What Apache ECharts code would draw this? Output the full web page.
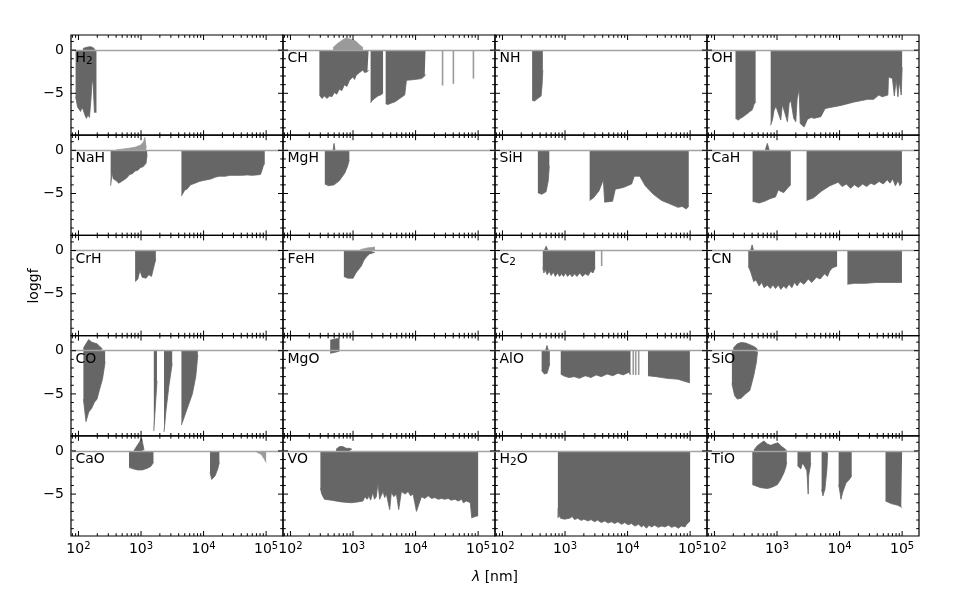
<!DOCTYPE html>
<html>
<head>
<meta charset="utf-8">
<script src="https://cdn.jsdelivr.net/npm/echarts@6.0.0/dist/echarts.min.js"></script>
<style>
html,body{margin:0;padding:0;background:#fff;}
#chart{width:960px;height:598px;}
</style>
</head>
<body>
<div id="chart"></div>
<script>
// ================= DATA =================
const panelNames = ['H2','CH','NH','OH','NaH','MgH','SiH','CaH','CrH','FeH','C2','CN','CO','MgO','AlO','SiO','CaO','VO','H2O','TiO'];
const xTickValues = [100, 1000, 10000, 100000];
const xTickExps = ['2', '3', '4', '5'];
const yTickValues = [0, -5];
const yTickLabels = ['0', '\u22125'];
const xAxisTitle = '\u03bb';
const xAxisUnit = ' [nm]';
const yAxisTitle = 'loggf';

// each band: [wavelength nm, loggf] envelope of the line list
const H2_low = [[[90,-5.4],[94,-5.5],[97,-6.6],[104,-6.8],[108,-7.1],[114,-6.6],[120,-7.0],[128,-7.6],[134,-7.9],[142,-7.5],[150,-7.8],[158,-5.8],[166,-3.4],[172,-4.0],[180,-7.2],[194,-7.2]]];
const H2_high = [[[118,0.2],[125,0.4],[140,0.35],[155,0.4],[170,0.3],[182,0.35],[186,0.05]]];

const CH_low = [
  [[290,-5.2],[320,-5.6],[349,-5.3],[385,-5.6],[420,-5.3],[460,-5.4],[505,-4.9],[550,-5.1],[607,-4.5],[660,-4.7],[731,-4.0],[800,-4.2],[879,-3.5],[940,-3.7],[995,-3.1],[1060,-3.4],[1125,-2.9],[1200,-3.0],[1272,-2.6],[1350,-2.8],[1442,-2.3],[1530,-2.6],[1630,-2.4],[1700,-2.5],[1775,-2.3]],
  [[1910,-6.1],[2050,-5.8],[2215,-5.6],[2350,-5.7],[2500,-5.3],[2750,-5.2],[3020,-5.0]],
  [[3326,-6.2],[3600,-6.3],[3857,-6.4],[4200,-6.1],[4637,-6.0],[5100,-5.8],[5575,-5.6],[6100,-5.4],[6710,-5.2],[7000,-5.2],[7140,-3.5],[9710,-3.4],[12440,-3.3],[14000,-3.0],[14420,-2.8]]
];
const CH_lightHigh = [[[480,0.3],[575,0.8],[690,1.2],[770,1.4],[879,1.3],[995,1.2],[1125,1.0],[1272,0.6],[1442,0.3]]];
const CH_lines = [[27000,-4.1],[40200,-3.9],[84100,-3.3]];

const NH_low = [[[298,-5.8],[324,-5.9],[367,-5.6],[390,-5.8],[415,-5.3],[430,-4.0],[442,-2.3]]];

const OH_low = [
  [[217,-7.9],[240,-8.1],[261,-7.9],[290,-7.7],[314,-7.5],[335,-7.3],[356,-7.2],[380,-7.0],[403,-6.9],[428,-6.3],[455,-6.0]],
  [[792,-8.7],[850,-8.0],[896,-7.0],[960,-6.5],[1014,-6.6],[1146,-8.1],[1220,-6.3],[1295,-6.5],[1468,-8.3],[1560,-6.2],[1659,-5.8],[1850,-7.9],[1995,-8.3],[2100,-5.6],[2256,-4.6],[2350,-8.5],[2711,-8.9],[3074,-8.0],[3500,-7.8],[3928,-7.9],[5024,-7.7],[5832,-6.8],[6440,-6.7],[10520,-6.4],[17220,-6.0],[28250,-5.7],[35000,-5.7],[42460,-5.2],[48000,-5.4],[59200,-5.2],[60500,-3.1],[70000,-3.3],[75000,-5.3],[80300,-3.4],[85700,-5.4],[90000,-3.6],[96800,-5.2],[100000,-2.0]]
];

const NaH_low = [
  [[327,-4.1],[345,-2.6],[360,-3.3],[399,-3.5],[440,-3.8],[488,-3.6],[539,-3.4],[590,-3.2],[659,-2.8],[730,-2.7],[805,-2.4],[890,-2.3],[984,-2.0],[1080,-1.9],[1150,-1.8],[1203,-1.5],[1253,-0.5]],
  [[4426,-5.3],[5000,-4.6],[5408,-4.5],[6200,-4.0],[7310,-3.8],[8500,-3.6],[9880,-3.5],[11500,-3.4],[13350,-3.3],[15500,-3.1],[18040,-3.0],[22000,-3.0],[26920,-2.9],[33000,-2.9],[40230,-2.9],[50000,-2.85],[60100,-2.9],[70000,-2.85],[81200,-2.8],[86000,-2.3],[90000,-1.8],[95000,-1.5]]
];
const NaH_lightHigh = [[[400,0.05],[600,0.2],[800,0.35],[984,0.6],[1100,1.0],[1150,1.5],[1210,0.3]]];

const MgH_low = [[[354,-3.9],[407,-4.1],[498,-4.0],[608,-3.5],[743,-2.6],[822,-1.8],[873,-1.1]]];
const MgH_high = [[[480,0.05],[498,0.8],[515,0.05]]];

const SiH_low = [
  [[368,-4.9],[424,-5.1],[498,-4.8],[540,-3.5],[561,-1.8]],
  [[2477,-5.8],[2852,-5.5],[3487,-4.7],[4100,-3.4],[4300,-6.0],[5754,-5.9],[6360,-4.5],[8590,-4.3],[11590,-3.9],[12820,-3.0],[15670,-3.0],[19150,-4.1],[25870,-5.1],[34930,-5.8],[47210,-6.2],[63800,-6.6],[75000,-6.5],[86300,-6.8],[95000,-6.5]]
];

const CaH_low = [
  [[407,-5.9],[518,-6.1],[632,-5.9],[774,-5.6],[946,-5.4],[1045,-4.6],[1277,-4.9],[1500,-4.3],[1660,-4.0]],
  [[2966,-5.8],[3847,-5.5],[5196,-4.7],[7025,-4.1],[9490,-3.7],[11000,-4.2],[12830,-3.9],[15000,-4.4],[17330,-4.0],[20000,-4.3],[23400,-3.9],[27000,-4.2],[31620,-3.8],[36000,-4.0],[42740,-3.6],[50000,-3.9],[57700,-3.4],[64000,-3.8],[70500,-3.3],[78000,-4.1],[86200,-3.5],[92000,-4.1],[99300,-3.7]]
];
const CaH_high = [[[650,0.05],[700,0.8],[750,0.05]]];

const CrH_low = [[[805,-3.6],[890,-3.3],[960,-2.3],[1045,-3.1],[1202,-3.2],[1330,-2.8],[1470,-3.0],[1625,-1.7],[1726,-1.0]]];

const FeH_low = [[[714,-3.0],[822,-3.2],[1004,-3.2],[1110,-2.6],[1356,-1.8],[1499,-1.1],[1656,-0.7],[1832,-0.4],[2237,-0.2]]];
const FeH_lightHigh = [[[1300,0.1],[1500,0.2],[1700,0.3],[2000,0.35],[2237,0.4]]];

const C2_low = [[[441,-2.0],[460,-2.6],[480,-2.2],[518,-2.8],[560,-2.4],[600,-2.9],[650,-2.5],[700,-3.0],[760,-2.6],[820,-3.0],[880,-2.7],[946,-3.0],[1020,-2.6],[1100,-3.0],[1200,-2.7],[1300,-3.05],[1413,-2.7],[1550,-3.0],[1727,-2.6],[1900,-3.0],[2110,-2.7],[2350,-2.9],[2579,-2.4],[2800,-2.6],[3030,-2.0]]];
const C2_high = [[[470,0.05],[500,0.5],[530,0.05]]];
const C2_lines = [[3850,-1.8]];

const CN_low = [
  [[347,-1.8],[380,-2.5],[400,-3.0],[423,-3.6],[460,-3.4],[518,-4.1],[570,-3.7],[620,-4.3],[700,-4.0],[780,-4.4],[860,-4.0],[946,-4.4],[1050,-4.0],[1150,-4.5],[1277,-4.1],[1400,-4.4],[1550,-3.9],[1726,-4.3],[1900,-3.7],[2100,-4.1],[2333,-3.6],[2700,-3.9],[3150,-3.3],[3600,-3.7],[4257,-3.1],[4900,-3.3],[5754,-2.7],[6400,-3.0],[7030,-2.3],[7770,-2.0],[9120,-1.8]],
  [[13340,-3.9],[17320,-3.8],[25880,-3.8],[38640,-3.7],[57700,-3.7],[99300,-3.7]]
];
const CN_high = [[[380,0.05],[400,0.65],[420,0.05]]];

const CO_low = [
  [[120,-5.6],[132,-8.2],[146,-7.1],[162,-6.7],[179,-6.0],[198,-5.6],[219,-4.4],[242,-3.3],[267,-1.3]],
  [[1600,-9.3],[1700,-9.3],[1800,-3.5]],
  [[2333,-9.4],[2500,-7.0],[2800,-4.0],[3150,-1.5]],
  [[4426,-8.6],[5408,-6.8],[6620,-5.0],[7500,-3.0],[8090,-0.5]]
];
const CO_high = [[[120,0.3],[132,0.8],[146,1.3],[162,1.0],[179,0.9],[198,0.8],[219,0.5],[242,0.2]]];

const MgO_low = [[[432,-0.3],[500,-0.2],[608,-0.05]]];
const MgO_high = [[[432,1.2],[470,1.3],[520,1.35],[560,1.4],[608,1.4]]];

const AlO_low = [
  [[423,-2.3],[468,-2.7],[518,-2.6],[572,-1.5]],
  [[855,-2.7],[946,-2.9],[1150,-3.1],[1413,-3.0],[1700,-3.2],[2110,-2.9],[2600,-3.1],[3150,-2.8],[3800,-3.0],[4700,-2.7],[5800,-2.9],[7025,-2.6],[8500,-2.8],[10490,-2.5],[11140,-2.8]],
  [[21180,-2.9],[28600,-3.0],[42740,-3.2],[63830,-3.3],[86300,-3.6],[99000,-3.7]]
];
const AlO_high = [[[490,0.05],[515,0.6],[540,0.05]]];
const AlO_lines = [[12320,-2.8],[13500,-2.8],[15060,-2.8]];

const SiO_low = [[[190,-3.8],[210,-5.2],[232,-5.6],[267,-5.5],[314,-5.0],[368,-4.6],[424,-2.9],[469,-1.3],[488,-0.1]]];
const SiO_high = [[[200,0.3],[232,0.8],[267,0.95],[314,0.9],[368,0.7],[424,0.5],[469,0.3],[488,0.1]]];

const CaO_low = [
  [[643,-1.9],[727,-2.05],[875,-2.2],[1052,-2.2],[1265,-2.0],[1431,-1.8],[1581,-1.35]],
  [[12680,-2.5],[13490,-3.3],[14000,-3.5],[15240,-2.9],[16820,-2.1],[17880,-1.35]]
];
const CaO_lightLow = [[[69300,-0.1],[83400,-0.4],[94400,-1.0],[100000,-1.35]]];
const CaO_high = [[[773,0.05],[929,0.95],[1026,1.45],[1117,0.1]]];

const VO_low = [[[301,-4.3],[316,-5.0],[349,-5.6],[447,-5.7],[647,-5.9],[935,-6.0],[1197,-5.9],[1442,-5.8],[1550,-5.3],[1690,-5.6],[1800,-5.2],[1910,-5.7],[2083,-4.8],[2200,-5.6],[2356,-5.3],[2507,-3.7],[2663,-5.6],[3020,-4.7],[3200,-5.4],[3413,-5.0],[3857,-6.8],[4103,-4.8],[4500,-5.3],[4934,-5.0],[5375,-6.8],[5936,-4.7],[6800,-5.0],[7600,-4.7],[8300,-5.2],[9140,-5.0],[9700,-6.0],[10330,-7.0],[11250,-6.2],[12440,-5.3],[14000,-5.5],[15920,-5.2],[18000,-5.5],[20340,-5.4],[23000,-5.6],[26040,-5.5],[29000,-5.6],[33340,-5.5],[37000,-5.7],[42570,-5.6],[48000,-5.8],[54540,-5.6],[58000,-6.0],[61660,-6.2],[65000,-5.8],[69800,-5.9],[75000,-6.0],[78900,-7.75],[89200,-7.6],[100000,-7.5]]];
const VO_high = [[[537,0.2],[608,0.5],[688,0.5],[778,0.3],[879,0.3],[960,0.2]]];

const H2O_low = [[[769,-7.75],[780,-6.6],[795,-7.7],[817,-7.4],[850,-7.8],[900,-7.6],[982,-7.9],[1050,-7.7],[1181,-7.8],[1300,-7.6],[1421,-7.95],[1600,-7.8],[1820,-8.05],[2000,-7.9],[2332,-8.1],[2600,-7.95],[2981,-8.2],[3300,-8.0],[3811,-8.3],[4300,-8.1],[4885,-8.35],[5500,-8.2],[6240,-8.4],[7000,-8.2],[7980,-8.5],[9000,-8.3],[10230,-8.55],[11500,-8.4],[13070,-8.7],[15000,-8.5],[16720,-8.8],[18000,-8.6],[20100,-8.95],[22000,-8.6],[24200,-8.8],[27000,-8.6],[30970,-8.85],[35000,-8.7],[39560,-8.8],[45000,-8.6],[50680,-8.85],[57000,-8.7],[64850,-8.95],[72000,-8.7],[82800,-8.8],[88000,-8.5],[93900,-8.6],[100000,-8.1]]];

const TiO_low = [
  [[403,-3.9],[428,-4.1],[547,-4.25],[701,-4.35],[792,-4.25],[896,-4.1],[1014,-3.9],[1146,-3.3],[1295,-2.5],[1379,-1.9],[1432,-1.3]],
  [[2124,-1.7],[2400,-2.1],[2556,-1.4],[2711,-1.7],[2998,-2.3],[3100,-2.3],[3150,-5.0],[3200,-2.9],[3474,-1.4]],
  [[5160,-4.45],[5420,-5.2],[5830,-4.45],[6280,-2.1],[6440,-0.2]],
  [[9660,-3.9],[10260,-5.0],[10520,-5.6],[11210,-4.8],[12680,-3.7],[14330,-3.3],[15630,-2.9]],
  [[54200,-5.8],[66800,-6.1],[85700,-6.3],[96800,-6.5],[100000,-6.6]]
];
const TiO_high = [[[428,0.1],[484,0.6],[547,0.9],[618,1.15],[701,0.8],[792,0.65],[896,0.8],[1038,0.95],[1146,0.6],[1295,0.3],[1432,0.05]]];

// ================= LOOKUPS =================
const darkBands = {
  H2: H2_low.concat(H2_high), CH: CH_low, NH: NH_low, OH: OH_low,
  NaH: NaH_low, MgH: MgH_low.concat(MgH_high), SiH: SiH_low, CaH: CaH_low.concat(CaH_high),
  CrH: CrH_low, FeH: FeH_low, C2: C2_low.concat(C2_high), CN: CN_low.concat(CN_high),
  CO: CO_low.concat(CO_high), MgO: MgO_low.concat(MgO_high), AlO: AlO_low.concat(AlO_high), SiO: SiO_low.concat(SiO_high),
  CaO: CaO_low.concat(CaO_high), VO: VO_low.concat(VO_high), H2O: H2O_low, TiO: TiO_low.concat(TiO_high)
};
const lightBands = { CH: CH_lightHigh, NaH: NaH_lightHigh, FeH: FeH_lightHigh, CaO: CaO_lightLow };
const singleLines = { CH: CH_lines, C2: C2_lines, AlO: AlO_lines };

// ================= LAYOUT / STYLE =================
const FONT = 'DejaVu Sans';
const DARK = '#666666';
const LIGHT = '#9a9a9a';
const colLeft = [71, 283, 495, 707];
const rowTop = [35, 135.2, 235.4, 335.6, 435.8];
const panelW = 212, panelH = 100.2;
const xMin = 76, xMax = 186000, yMin = -9.85, yMax = 1.75;

// axis tick positions (decoration)
const xMinorTicks = [];
[10, 100, 1000, 10000].forEach(d => { for (let k = 2; k <= 9; k++) { const v = k * d; if (v > xMin && v < xMax) xMinorTicks.push(v); } });
const yMinorTicks = [1, -1, -2, -3, -4, -6, -7, -8, -9];

function labelRich(name) {
  let s = '';
  for (const ch of name) s += /[0-9]/.test(ch) ? '{s|' + ch + '}' : '{n|' + ch + '}';
  return s;
}

const grids = [], xAxes = [], yAxes = [], series = [], graphics = [];

for (let i = 0; i < panelNames.length; i++) {
  const name = panelNames[i];
  const r = Math.floor(i / 4), c = i % 4;
  grids.push({ left: colLeft[c], top: rowTop[r], width: panelW, height: panelH, show: true,
    borderColor: '#000', borderWidth: 1.2, backgroundColor: 'transparent' });
  xAxes.push({
    type: 'log', logBase: 10, gridIndex: i, min: xMin, max: xMax,
    axisLine: { show: false }, axisTick: { show: false }, splitLine: { show: false },
    minorTick: { show: false }, minorSplitLine: { show: false },
    axisLabel: {
      show: r === 4, margin: 5, color: '#000',
      formatter: function (v) {
        const e = Math.log10(v), re = Math.round(e);
        if (Math.abs(e - re) > 1e-6) return '';
        const k = xTickValues.indexOf(Math.pow(10, re));
        return k < 0 ? '' : '{b|10}{s|' + xTickExps[k] + '}';
      },
      rich: {
        b: { fontSize: 14, fontFamily: FONT, color: '#000', lineHeight: 17 },
        s: { fontSize: 10, fontFamily: FONT, color: '#000', lineHeight: 10, verticalAlign: 'top' }
      }
    }
  });
  yAxes.push({
    type: 'value', gridIndex: i, min: yMin, max: yMax, splitNumber: 2,
    axisLine: { show: false }, axisTick: { show: false }, splitLine: { show: false },
    axisLabel: {
      show: c === 0, margin: 7, color: '#000', fontSize: 14, fontFamily: FONT,
      formatter: function (v) {
        const k = yTickValues.findIndex(t => Math.abs(t - v) < 1e-9);
        return k < 0 ? '' : yTickLabels[k];
      }
    }
  });

  // filled line-list envelopes
  darkBands[name].forEach((band, j) => {
    const s = {
      type: 'line', xAxisIndex: i, yAxisIndex: i, data: band, symbol: 'none', silent: true, smooth: false,
      lineStyle: { width: 0.8, color: DARK }, areaStyle: { color: DARK, opacity: 1 }, z: 2
    };
    if (j === 0) {
      s.markLine = { silent: true, symbol: ['none', 'none'], label: { show: false }, animation: false,
        lineStyle: { color: '#a3a3a3', width: 1.3, type: 'solid' }, data: [{ yAxis: 0 }] };
    }
    series.push(s);
  });
  (lightBands[name] || []).forEach(band => {
    series.push({
      type: 'line', xAxisIndex: i, yAxisIndex: i, data: band, symbol: 'none', silent: true, smooth: false,
      lineStyle: { width: 0.8, color: LIGHT }, areaStyle: { color: LIGHT, opacity: 1 }, z: 1
    });
  });
  if (singleLines[name]) {
    series.push({
      type: 'custom', xAxisIndex: i, yAxisIndex: i, data: singleLines[name], encode: { x: 0, y: 1 }, silent: true, z: 2,
      renderItem: function (params, api) {
        const a = api.coord([api.value(0), 0]);
        const b = api.coord([api.value(0), api.value(1)]);
        return { type: 'line', shape: { x1: a[0], y1: a[1], x2: b[0], y2: b[1] }, style: { stroke: LIGHT, lineWidth: 1.6 } };
      }
    });
  }

  // inward ticks on all four sides
  const tickData = [];
  xMinorTicks.forEach(v => tickData.push([v, 0, 0]));
  xTickValues.forEach(v => tickData.push([v, 0, 1]));
  yMinorTicks.forEach(v => tickData.push([1000, v, 2]));
  yTickValues.forEach(v => tickData.push([1000, v, 3]));
  series.push({
    type: 'custom', xAxisIndex: i, yAxisIndex: i, data: tickData, encode: { x: 0, y: 1 }, silent: true, z: 10,
    renderItem: function (params, api) {
      const cs = params.coordSys;
      const kind = api.value(2);
      const st = { stroke: '#000', lineWidth: 1 };
      if (kind < 2) {
        const px = api.coord([api.value(0), 0])[0];
        const L = kind === 1 ? 5 : 2.8;
        return { type: 'group', children: [
          { type: 'line', shape: { x1: px, y1: cs.y, x2: px, y2: cs.y + L }, style: st },
          { type: 'line', shape: { x1: px, y1: cs.y + cs.height, x2: px, y2: cs.y + cs.height - L }, style: st }
        ] };
      }
      const py = api.coord([1000, api.value(1)])[1];
      const L = kind === 3 ? 5 : 2.8;
      return { type: 'group', children: [
        { type: 'line', shape: { x1: cs.x, y1: py, x2: cs.x + L, y2: py }, style: st },
        { type: 'line', shape: { x1: cs.x + cs.width, y1: py, x2: cs.x + cs.width - L, y2: py }, style: st }
      ] };
    }
  });

  // molecule label
  graphics.push({
    type: 'text', x: colLeft[c] + 4.5, y: rowTop[r] + 15, z: 20,
    style: {
      text: labelRich(name), align: 'left', verticalAlign: 'top',
      rich: {
        n: { fontSize: 14, fontFamily: FONT, fill: '#000', lineHeight: 17 },
        s: { fontSize: 10.5, fontFamily: FONT, fill: '#000', lineHeight: 11, verticalAlign: 'bottom' }
      }
    }
  });
}

graphics.push({
  type: 'text', x: 34, y: 286, rotation: Math.PI / 2,
  style: { text: yAxisTitle, fontSize: 14, fontFamily: FONT, fill: '#000', align: 'center', verticalAlign: 'middle' }
});
graphics.push({
  type: 'text', x: 495, y: 577,
  style: {
    text: '{i|' + xAxisTitle + '}{n|' + xAxisUnit + '}', align: 'center', verticalAlign: 'middle',
    rich: {
      i: { fontSize: 14, fontFamily: FONT, fontStyle: 'italic', fill: '#000' },
      n: { fontSize: 14, fontFamily: FONT, fill: '#000' }
    }
  }
});

const chart = echarts.init(document.getElementById('chart'), null, { renderer: 'canvas' });
chart.setOption({
  animation: false,
  backgroundColor: '#ffffff',
  grid: grids,
  xAxis: xAxes,
  yAxis: yAxes,
  series: series,
  graphic: graphics
});
</script>
</body>
</html>
